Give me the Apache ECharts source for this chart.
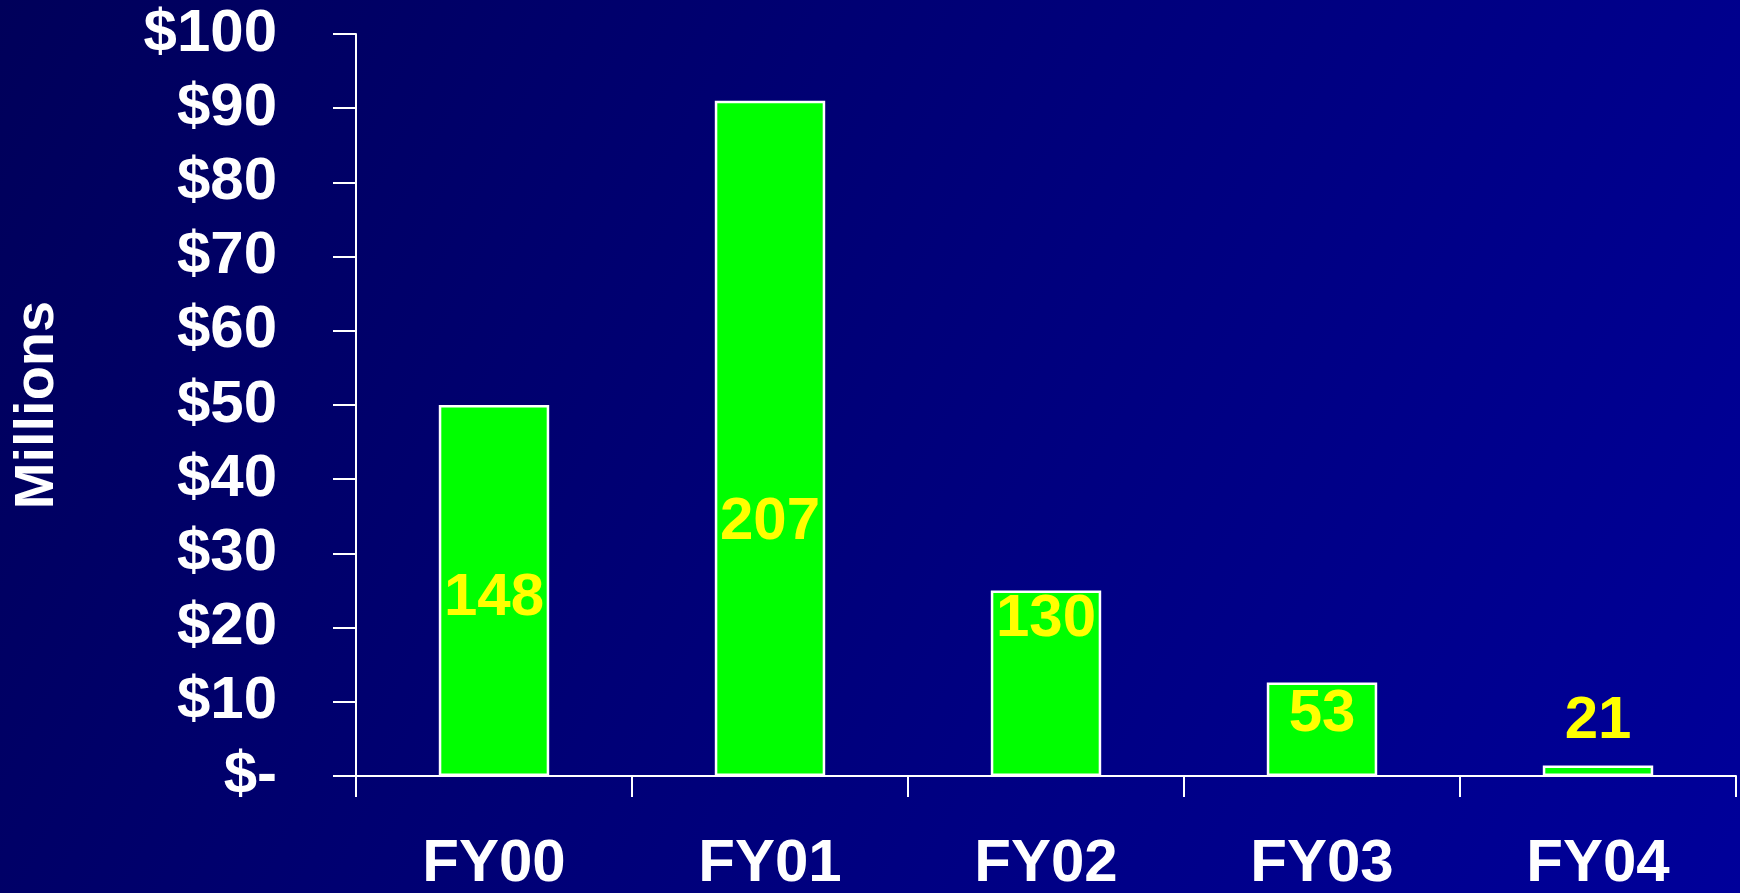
<!DOCTYPE html>
<html>
<head>
<meta charset="utf-8">
<script src="https://cdn.jsdelivr.net/npm/echarts@6/dist/echarts.min.js"></script>
<style>
  html, body { margin: 0; padding: 0; }
  #chart { width: 1740px; height: 893px; }
</style>
</head>
<body>
<div id="chart"></div>
<script>
var categories = ['FY00', 'FY01', 'FY02', 'FY03', 'FY04'];
var amounts = [50, 91, 25, 12.6, 1.4];       // $ millions
var counts = [148, 207, 130, 53, 21];        // number shown on each bar
var yTicks = [0, 10, 20, 30, 40, 50, 60, 70, 80, 90, 100];

!function(){
    var myChart = echarts.init(document.getElementById('chart'));
    var font = '"Liberation Sans", Arial, sans-serif';
    // where the count labels sit relative to the bar centre
    var labelShift = [8, 84, -64, -15, -49];

    var option = {
        backgroundColor: new echarts.graphic.LinearGradient(0, 0, 1, 1, [
            { offset: 0, color: '#00005a' },
            { offset: 1, color: '#00009a' }
        ]),
        grid: { left: 356, top: 34, right: 4, bottom: 117, outerBoundsMode: 'none' },
        xAxis: {
            type: 'category',
            data: categories,
            axisLine: { lineStyle: { color: '#ffffff', width: 2 } },
            axisTick: { show: true, length: 21, lineStyle: { color: '#ffffff', width: 2 } },
            axisLabel: {
                color: '#ffffff', fontFamily: font, fontWeight: 'bold', fontSize: 60,
                margin: 58
            }
        },
        yAxis: {
            type: 'value',
            min: yTicks[0],
            max: yTicks[yTicks.length - 1],
            interval: 10,
            name: 'Millions',
            nameLocation: 'middle',
            nameRotate: 90,
            nameGap: 290,
            nameTextStyle: { color: '#ffffff', fontFamily: font, fontWeight: 'bold', fontSize: 56 },
            axisLine: { show: true, lineStyle: { color: '#ffffff', width: 2 } },
            axisTick: { show: true, length: 23, lineStyle: { color: '#ffffff', width: 2 } },
            splitLine: { show: false },
            axisLabel: {
                color: '#ffffff', fontFamily: font, fontWeight: 'bold', fontSize: 60,
                margin: 79,
                formatter: function (v) { return v === 0 ? '$-' : '$' + v; }
            }
        },
        series: [{
            type: 'bar',
            barWidth: '40%',
            itemStyle: { color: '#00ff00', borderColor: '#ffffff', borderWidth: 2.5 },
            data: amounts.map(function (v, i) {
                return {
                    value: v,
                    label: {
                        show: true,
                        position: 'inside',
                        offset: [0, labelShift[i]],
                        formatter: String(counts[i]),
                        color: '#ffff00',
                        fontFamily: font,
                        fontWeight: 'bold',
                        fontSize: 60
                    }
                };
            })
        }]
    };
    myChart.setOption(option);
}.call()
</script>
</body>
</html>
